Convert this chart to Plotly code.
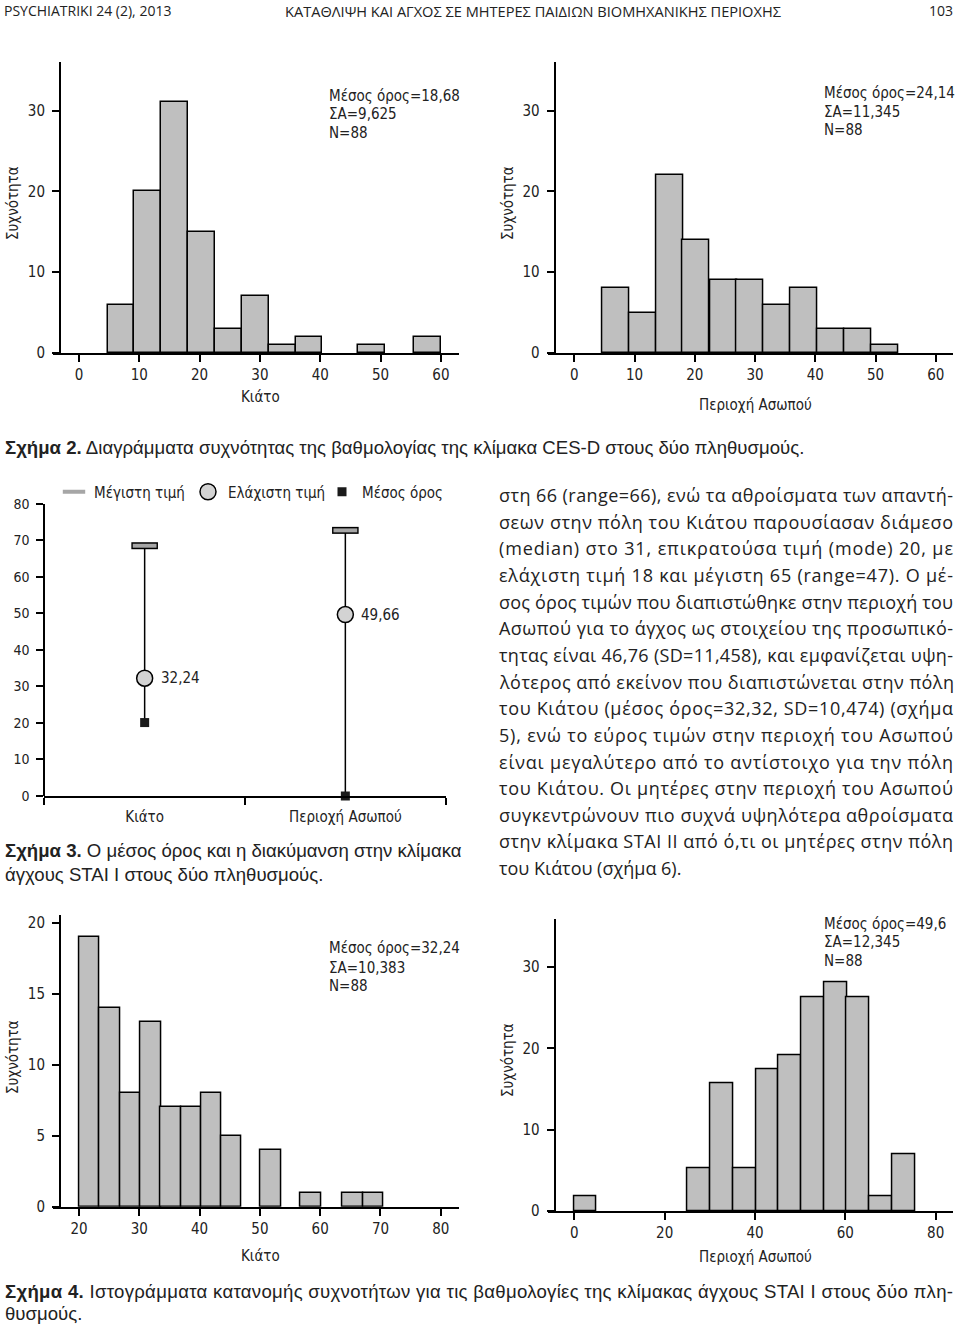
import json
import plotly.graph_objects as go

W, H = 960, 1327

# ---------------- data ----------------
# Figure 2 : CES-D histograms
ces_kiato_bin_start = [4.75, 9.2, 13.65, 18.1, 22.55, 27.0, 31.45, 35.9, 46.2, 55.55]
ces_kiato_counts = [6, 20, 31, 15, 3, 7, 1, 2, 1, 2]
ces_kiato_bin_width = 4.45
ces_kiato_stats = ["Μέσος όρος=18,68", "ΣΑ=9,625", "N=88"]

ces_asopos_bin_start = [4.65, 9.1, 13.55, 18.0, 22.5, 26.95, 31.4, 35.9, 40.4, 44.85, 49.35]
ces_asopos_counts = [8, 5, 22, 14, 9, 9, 6, 8, 3, 3, 1]
ces_asopos_bin_width = 4.47
ces_asopos_stats = ["Μέσος όρος=24,14", "ΣΑ=11,345", "N=88"]

ces_ticks_x = [0, 10, 20, 30, 40, 50, 60]
ces_ticks_y = [0, 10, 20, 30]

# Figure 3 : STAI I range plot
stai_groups = ["Κιάτο", "Περιοχή Ασωπού"]
stai_max = [68.5, 72.7]
stai_min = [32.24, 49.66]
stai_mean = [20.1, 0.0]
stai_ticks_y = [0, 10, 20, 30, 40, 50, 60, 70, 80]

# Figure 4 : STAI I histograms
stai_kiato_bin_start = [20.05, 23.4, 26.85, 30.2, 33.55, 36.9, 40.25, 43.6, 50.1, 56.75, 63.7, 67.1]
stai_kiato_counts = [19, 14, 8, 13, 7, 7, 8, 5, 4, 1, 1, 1]
stai_kiato_bin_width = 3.37
stai_kiato_stats = ["Μέσος όρος=32,24", "ΣΑ=10,383", "N=88"]
stai_kiato_ticks_x = [20, 30, 40, 50, 60, 70, 80]
stai_kiato_ticks_y = [0, 5, 10, 15, 20]

stai_asopos_bin_start = [-0.1, 25.1, 30.1, 35.15, 40.2, 45.2, 50.25, 55.3, 60.3, 65.35, 70.4]
stai_asopos_counts = [1.8, 5.3, 15.7, 5.3, 17.5, 19.2, 26.3, 28.1, 26.3, 1.8, 7.0]
stai_asopos_bin_width = 5.03
stai_asopos_stats = ["Μέσος όρος=49,6", "ΣΑ=12,345", "N=88"]
stai_asopos_ticks_x = [0, 20, 40, 60, 80]
stai_asopos_ticks_y = [0, 10, 20, 30]

body_lines = [
    "στη 66 (range=66), ενώ τα αθροίσματα των απαντή-",
    "σεων στην πόλη του Κιάτου παρουσίασαν διάμεσο",
    "(median) στο 31, επικρατούσα τιμή (mode) 20, με",
    "ελάχιστη τιμή 18 και μέγιστη 65 (range=47). Ο μέ-",
    "σος όρος τιμών που διαπιστώθηκε στην περιοχή του",
    "Ασωπού για το άγχος ως στοιχείου της προσωπικό-",
    "τητας είναι 46,76 (SD=11,458), και εμφανίζεται υψη-",
    "λότερος από εκείνον που διαπιστώνεται στην πόλη",
    "του Κιάτου (μέσος όρος=32,32, SD=10,474) (σχήμα",
    "5), ενώ το εύρος τιμών στην περιοχή του Ασωπού",
    "είναι μεγαλύτερο από το αντίστοιχο για την πόλη",
    "του Κιάτου. Οι μητέρες στην περιοχή του Ασωπού",
    "συγκεντρώνουν πιο συχνά υψηλότερα αθροίσματα",
    "στην κλίμακα STAI II από ό,τι οι μητέρες στην πόλη",
    "του Κιάτου (σχήμα 6).",
]
cap4_label = "Σχήμα 4."
cap4_line1 = "Ιστογράμματα κατανομής συχνοτήτων για τις βαθμολογίες της κλίμακας άγχους STAI I στους δύο πλη-"

# ---------------- helpers ----------------
CH = "DejaVu Sans Condensed, DejaVu Sans, sans-serif"
BODY = "Open Sans, Noto Sans, sans-serif"
CAP = "Liberation Sans, Arial, sans-serif"
BAR_FILL = "#bfbfbf"


def px(x):
    return x / W


def py(y):
    return 1 - y / H


fig = go.Figure()


def add_hist(starts, counts, width, xa, ya):
    fig.add_trace(go.Bar(
        x=[s + width / 2 for s in starts], y=counts, width=[width] * len(starts),
        marker=dict(color=BAR_FILL, line=dict(color="black", width=1.5)),
        xaxis=xa, yaxis=ya, showlegend=False, hoverinfo="x+y"))


add_hist(ces_kiato_bin_start, ces_kiato_counts, ces_kiato_bin_width, "x", "y")
add_hist(ces_asopos_bin_start, ces_asopos_counts, ces_asopos_bin_width, "x2", "y2")
add_hist(stai_kiato_bin_start, stai_kiato_counts, stai_kiato_bin_width, "x4", "y4")
add_hist(stai_asopos_bin_start, stai_asopos_counts, stai_asopos_bin_width, "x5", "y5")

# range plot
for g, lo, hi in zip(stai_groups, stai_mean, stai_max):
    fig.add_trace(go.Scatter(x=[g, g], y=[lo, hi], mode="lines",
                             line=dict(color="black", width=1.5),
                             xaxis="x3", yaxis="y3", showlegend=False, cliponaxis=False))
fig.add_trace(go.Scatter(x=stai_groups, y=stai_max, mode="markers",
                         marker=dict(symbol="line-ew", size=19, line=dict(color="black", width=7)),
                         xaxis="x3", yaxis="y3", showlegend=False, cliponaxis=False))
fig.add_trace(go.Scatter(x=stai_groups, y=stai_max, mode="markers", name="Μέγιστη τιμή",
                         marker=dict(symbol="line-ew", size=17, line=dict(color="#a6a6a6", width=4)),
                         xaxis="x3", yaxis="y3", cliponaxis=False))
fig.add_trace(go.Scatter(x=stai_groups, y=stai_min, mode="markers", name="Ελάχιστη τιμή",
                         marker=dict(symbol="circle", size=16, color="#d3d3d3",
                                     line=dict(color="black", width=1.5)),
                         xaxis="x3", yaxis="y3", cliponaxis=False))
fig.add_trace(go.Scatter(x=stai_groups, y=stai_mean, mode="markers", name="Μέσος όρος",
                         marker=dict(symbol="square", size=9, color="#1a1a1a",
                                     line=dict(color="#1a1a1a", width=0)),
                         xaxis="x3", yaxis="y3", cliponaxis=False))


# ---------------- axes ----------------
def xax(dom, rng, tickvals, size=15, **kw):
    d = dict(domain=[px(dom[0]), px(dom[1])], showline=True, linewidth=2, linecolor="black",
             ticks="outside", ticklen=7, tickwidth=1.5, tickcolor="black",
             showgrid=False, zeroline=False, fixedrange=True, automargin=False,
             tickfont=dict(family=CH, size=size, color="#222"))
    if rng is not None:
        d["range"] = rng
    if tickvals is not None:
        d["tickvals"] = tickvals
    d.update(kw)
    return d


def yax(dom, rng, tickvals, pos, size=15, **kw):
    d = dict(domain=[py(dom[0]), py(dom[1])], range=rng, tickvals=tickvals,
             anchor="free", position=px(pos), automargin=False,
             showline=True, linewidth=2, linecolor="black",
             ticks="outside", ticklen=7, tickwidth=1.5, tickcolor="black",
             showgrid=False, zeroline=False, fixedrange=True, ticklabelstandoff=4,
             tickfont=dict(family=CH, size=size, color="#222"))
    d.update(kw)
    return d


fig.update_layout(
    width=W, height=H, autosize=False,
    margin=dict(l=0, r=0, t=0, b=0, pad=0, autoexpand=False),
    paper_bgcolor="white", plot_bgcolor="white",
    xaxis=xax((53, 459), [-4.3, 63], ces_ticks_x, anchor="y"),
    yaxis=yax((353, 62), [0, 36], ces_ticks_y, 60),
    xaxis2=xax((548.3, 953.3), [-4.32, 62.9], ces_ticks_x, anchor="y2"),
    yaxis2=yax((353, 62), [0, 36], ces_ticks_y, 554.7),
    xaxis3=xax((44.3, 445.7), [-0.5, 1.5], None, size=15, anchor="y3", type="category",
               tickson="boundaries", categoryorder="array", categoryarray=stai_groups,
               ticklabelstandoff=6),
    yaxis3=yax((796, 503.7), [0, 80], stai_ticks_y, 44.3, size=14),
    xaxis4=xax((53.3, 459.3), [15.74, 83.07], stai_kiato_ticks_x, anchor="y4"),
    yaxis4=yax((1206.7, 915), [0, 20.55], stai_kiato_ticks_y, 60),
    xaxis5=xax((548.3, 953.3), [-5.76, 83.9], stai_asopos_ticks_x, anchor="y5"),
    yaxis5=yax((1211, 919.3), [0, 35.9], stai_asopos_ticks_y, 554.7),
    legend=dict(orientation="h", x=px(54), y=py(492), xanchor="left", yanchor="middle",
                font=dict(family=CH, size=15, color="#222"), bgcolor="rgba(0,0,0,0)",
                entrywidth=89, entrywidthmode="pixels", itemclick=False, itemdoubleclick=False),
    bargap=0,
)

ann = []


def text(t, x, y, size, family, xanchor="left", yanchor="middle", angle=0, color="#222", pad=1):
    ann.append(dict(text=t, x=px(x), y=py(y), xref="paper", yref="paper", showarrow=False,
                    xanchor=xanchor, yanchor=yanchor, textangle=angle, borderpad=pad,
                    align="left" if xanchor == "left" else "center",
                    font=dict(size=size, family=family, color=color)))


# header (anchored to the top edge so nothing is cut)
text("PSYCHIATRIKI 24 (2), 2013", 3, 0, 14, BODY, yanchor="top", pad=0)
text("ΚΑΤΑΘΛΙΨΗ ΚΑΙ ΑΓΧΟΣ ΣΕ ΜΗΤΕΡΕΣ ΠΑΙΔΙΩΝ ΒΙΟΜΗΧΑΝΙΚΗΣ ΠΕΡΙΟΧΗΣ", 533, 0, 14.6, BODY,
     xanchor="center", yanchor="top", pad=0)
text("103", 954, 0, 14, BODY, xanchor="right", yanchor="top", pad=0)

# axis titles
text("Συχνότητα", 13, 203, 15, CH, xanchor="center", angle=-90)
text("Κιάτο", 260, 397, 15, CH, xanchor="center")
text("Συχνότητα", 508, 203, 15, CH, xanchor="center", angle=-90)
text("Περιοχή Ασωπού", 755, 405, 15, CH, xanchor="center")
text("Συχνότητα", 13, 1057, 15, CH, xanchor="center", angle=-90)
text("Κιάτο", 260, 1256, 15, CH, xanchor="center")
text("Συχνότητα", 508, 1060, 15, CH, xanchor="center", angle=-90)
text("Περιοχή Ασωπού", 755, 1257, 15, CH, xanchor="center")

# stats boxes
for lines, x0, ys in [
    (ces_kiato_stats, 327, [95.7, 114.3, 133]),
    (ces_asopos_stats, 821.7, [93, 111.7, 130]),
    (stai_kiato_stats, 326.7, [948.3, 967.7, 986]),
    (stai_asopos_stats, 821.7, [924, 942.3, 961]),
]:
    for t, yy in zip(lines, ys):
        text(t, x0, yy, 15, CH)

# range plot value labels
for g, v in zip(stai_groups, stai_min):
    ann.append(dict(text=f"{v:.2f}".replace(".", ","), x=g, y=v, xref="x3", yref="y3",
                    showarrow=False, xanchor="left", yanchor="middle", xshift=14,
                    font=dict(size=15, family=CH, color="#222")))

# captions
CAPSZ = 18.6
text("<b>Σχήμα 2.</b> Διαγράμματα συχνότητας της βαθμολογίας της κλίμακα CES-D στους δύο πληθυσμούς.",
     3, 447, CAPSZ, CAP)
text("<b>Σχήμα 3.</b> Ο μέσος όρος και η διακύμανση στην κλίμακα", 3, 850, CAPSZ, CAP)
text("άγχους STAI I στους δύο πληθυσμούς.", 3, 874, CAPSZ, CAP)
text(f"<b>{cap4_label}</b> {cap4_line1}", 3, 1291, CAPSZ, CAP)
text("θυσμούς.", 3, 1313, CAPSZ, CAP)

# body text
for i, line in enumerate(body_lines):
    text(line, 497, 495 + 26.65 * i, 18, BODY)

fig.update_layout(annotations=ann)

# justify the full lines of the text column and of the last caption (right edge at x=953)
justify = body_lines[:-1] + [f"{cap4_label} {cap4_line1}"]
post = """
document.body.style.margin='0';document.body.style.overflow='hidden';
try {
  var targets = %s;
  var gd = document.querySelector('.plotly-graph-div');
  var origin = gd.getBoundingClientRect().left;
  document.querySelectorAll('text.annotation-text').forEach(function(el){
    var t = el.textContent;
    if (targets.indexOf(t) >= 0) {
      var before = el.getBoundingClientRect().left;
      var left = before - origin;
      var cur = el.getComputedTextLength();
      var need = 953 - left;
      if (need > cur && need < cur * 1.15) {
        el.setAttribute('textLength', need);
        el.setAttribute('lengthAdjust', 'spacing');
        var after = el.getBoundingClientRect().left;
        var x0 = parseFloat(el.getAttribute('x') || '0');
        el.setAttribute('x', x0 + (before - after));
      }
    }
  });
} catch (e) {}
""" % json.dumps(justify)

fig.write_html(
    "out.html",
    config={"displayModeBar": False, "responsive": False},
    post_script=post,
)
